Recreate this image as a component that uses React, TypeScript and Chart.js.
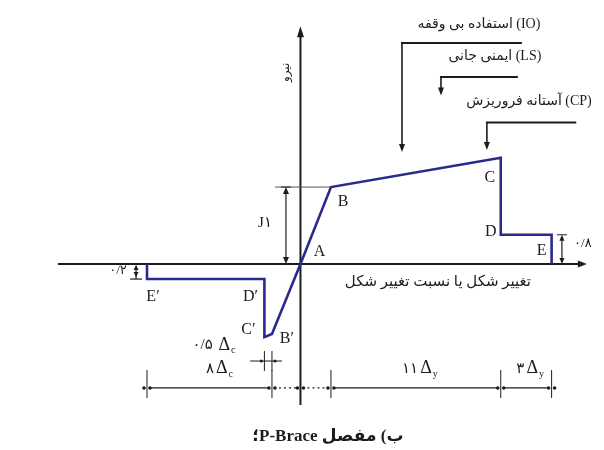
import React, { useEffect, useRef } from "react";
import { Chart, registerables } from "chart.js";

Chart.register(...registerables);

// ---- scale ranges (x in Δ units, y = normalised force) ----
const X_MIN = -19.5;
const X_MAX = 19.7;
const Y_MIN = -2.416;
const Y_MAX = 3.43;

// ---- generalized force–deformation curve ----
const pointNames = ["", "E′", "D′", "C′", "B′", "A", "B", "C", "D", "E", ""];
const curveX = [-9.96, -9.96, -2.34, -2.34, -1.85, 0, 1.98, 13.0, 13.0, 16.3, 16.3];
const curveY = [0, -0.195, -0.195, -0.95, -0.91, 0, 1.0, 1.38, 0.38, 0.38, 0];

// ---- dimension chain under the plot ----
const chainX = [-9.96, -1.85, 0, 1.98, 13.0, 16.3];
const chainNum = ["۸", "", "", "۱۱", "۳"];
const chainSub = ["c", "", "", "y", "y"];
const chainDotted = [false, true, true, false, false];

// ---- performance levels ----
const levelNames = ["(IO) استفاده بی وقفه", "(LS) ایمنی جانی", "(CP) آستانه فروریزش"];
const levelArrowX = [6.59, 9.12, 12.1];
const levelEndX = [14.37, 14.11, 17.9];
const levelTopY = [2.87, 2.43, 1.84];
const levelTipY = [1.455, 2.19, 1.48];
const levelTextX = [11.58, 12.62, 14.83];
const levelTextY = [3.117, 2.7, 2.117];

// ---- texts ----
const xTitle = "تغییر شکل یا نسبت تغییر شکل";
const yTitle = "نیرو";
const unitLabel = "J۱";
const residualPos = "۰/۸";
const residualNeg = "۰/۲";
const halfDelta = "۰/۵ ";
const caption = "ب) مفصل P-Brace؛";

const SERIF = '"Liberation Serif", "DejaVu Serif", "DejaVu Sans", serif';
const MIXED = '"Liberation Serif", "DejaVu Sans", serif';
const INK = "#1c1c1c";
const CURVE = "#2a2a8e";

const labelOffset: Record<string, [number, number]> = {
  "A": [19, -12],
  "B": [12, 15],
  "C": [-11, 20],
  "D": [-10, -3],
  "E": [-10, 16],
  "E′": [6, 18],
  "D′": [-14, 18],
  "C′": [-16, -7],
  "B′": [15, 5],
};

function seg(ctx: CanvasRenderingContext2D, x1: number, y1: number, x2: number, y2: number, w: number) {
  ctx.lineWidth = w;
  ctx.beginPath();
  ctx.moveTo(x1, y1);
  ctx.lineTo(x2, y2);
  ctx.stroke();
}

function head(ctx: CanvasRenderingContext2D, x: number, y: number, dir: string, len: number, half: number) {
  ctx.beginPath();
  ctx.moveTo(x, y);
  if (dir === "right") { ctx.lineTo(x - len, y - half); ctx.lineTo(x - len, y + half); }
  if (dir === "left") { ctx.lineTo(x + len, y - half); ctx.lineTo(x + len, y + half); }
  if (dir === "up") { ctx.lineTo(x - half, y + len); ctx.lineTo(x + half, y + len); }
  if (dir === "down") { ctx.lineTo(x - half, y - len); ctx.lineTo(x + half, y - len); }
  ctx.closePath();
  ctx.fill();
}

function text(ctx: CanvasRenderingContext2D, s: string, x: number, y: number, font: string, dir: CanvasDirection = "ltr", align: CanvasTextAlign = "center") {
  ctx.font = font;
  ctx.direction = dir;
  ctx.textAlign = align;
  ctx.textBaseline = "middle";
  ctx.fillText(s, x, y);
}

function deltaLabel(ctx: CanvasRenderingContext2D, num: string, sub: string, cx: number, cy: number) {
  const fNum = `15px ${MIXED}`;
  const fD = `18px ${SERIF}`;
  const fS = `10px ${SERIF}`;
  ctx.direction = "ltr";
  ctx.textBaseline = "middle";
  ctx.textAlign = "left";
  ctx.font = fNum; const w1 = ctx.measureText(num).width;
  ctx.font = fD; const w2 = ctx.measureText("Δ").width;
  ctx.font = fS; const w3 = ctx.measureText(sub).width;
  let x = cx - (w1 + 2 + w2 + 1 + w3) / 2;
  ctx.font = fNum; ctx.fillText(num, x, cy); x += w1 + 2;
  ctx.font = fD; ctx.fillText("Δ", x, cy); x += w2 + 1;
  ctx.font = fS; ctx.fillText(sub, x, cy + 6);
}

const diagram = {
  id: "diagram",
  beforeDatasetsDraw(chart: any) {
    const { ctx, scales } = chart;
    const X = (v: number) => scales.x.getPixelForValue(v);
    const Y = (v: number) => scales.y.getPixelForValue(v);
    ctx.save();
    ctx.strokeStyle = INK;
    ctx.fillStyle = INK;
    ctx.lineCap = "butt";

    // axes
    seg(ctx, X(-15.74), Y(0), X(18.4), Y(0), 2);
    head(ctx, X(18.59), Y(0), "right", 9, 3.5);
    seg(ctx, X(0), Y(-1.83), X(0), Y(2.95), 2);
    head(ctx, X(0), Y(3.09), "up", 11, 3.5);

    // extension at yield level
    const bx = curveX[6];
    ctx.strokeStyle = "#555";
    seg(ctx, X(-1.65), Y(curveY[6]), X(bx), Y(curveY[6]), 1);
    ctx.strokeStyle = INK;

    // unit dimension
    const ux = X(-0.94);
    seg(ctx, ux, Y(curveY[6]) + 5, ux, Y(0) - 5, 1.2);
    head(ctx, ux, Y(curveY[6]), "up", 7, 3);
    head(ctx, ux, Y(0), "down", 7, 3);
    seg(ctx, ux - 5, Y(curveY[6]), ux + 5, Y(curveY[6]), 1);

    // residual +0.8
    const rx = X(16.97);
    seg(ctx, rx, Y(curveY[9]) + 4, rx, Y(0) - 4, 1.2);
    head(ctx, rx, Y(curveY[9]), "up", 6, 2.5);
    head(ctx, rx, Y(0), "down", 6, 2.5);
    seg(ctx, rx - 5, Y(curveY[9]), rx + 5, Y(curveY[9]), 1);

    // residual -0.2
    const lx = X(-10.67);
    seg(ctx, lx, Y(0) + 2, lx, Y(curveY[1]), 1.2);
    head(ctx, lx, Y(0) + 1, "up", 5, 2.5);
    head(ctx, lx, Y(curveY[1]) - 2, "down", 5, 2.5);
    seg(ctx, lx - 6, Y(curveY[1]), lx + 6, Y(curveY[1]), 1.2);

    // performance level brackets
    for (let i = 0; i < levelNames.length; i++) {
      const ax = X(levelArrowX[i]);
      seg(ctx, ax - 1, Y(levelTopY[i]), X(levelEndX[i]), Y(levelTopY[i]), 2);
      seg(ctx, ax, Y(levelTopY[i]), ax, Y(levelTipY[i]) - 6, 1.6);
      head(ctx, ax, Y(levelTipY[i]), "down", 8, 3);
    }

    // dimension chain
    const cy = Y(-1.61);
    for (let i = 0; i < chainX.length - 1; i++) {
      const a = X(chainX[i]);
      const b = X(chainX[i + 1]);
      if (chainDotted[i]) ctx.setLineDash([2, 3]);
      seg(ctx, a + 2, cy, b - 2, cy, 1.3);
      ctx.setLineDash([]);
    }
    for (let i = 0; i < chainX.length; i++) {
      const t = X(chainX[i]);
      if (chainX[i] !== 0) seg(ctx, t, Y(-1.377), t, Y(-1.74), 1);
      ctx.beginPath(); ctx.arc(t - 3, cy, 1.8, 0, Math.PI * 2); ctx.fill();
      ctx.beginPath(); ctx.arc(t + 3, cy, 1.8, 0, Math.PI * 2); ctx.fill();
    }

    // small 0.5Δc dimension
    const sy = Y(-1.26);
    seg(ctx, X(-3.26), sy, X(-1.2), sy, 1);
    seg(ctx, X(curveX[3]), Y(-1.13), X(curveX[3]), Y(-1.39), 1);
    seg(ctx, X(curveX[4]), Y(-1.13), X(curveX[4]), Y(-1.39), 1);
    ctx.beginPath(); ctx.arc(X(curveX[3]) - 3, sy, 1.5, 0, Math.PI * 2); ctx.fill();
    ctx.beginPath(); ctx.arc(X(curveX[4]) + 3, sy, 1.5, 0, Math.PI * 2); ctx.fill();

    ctx.restore();
  },
  afterDatasetsDraw(chart: any) {
    const { ctx, scales } = chart;
    const X = (v: number) => scales.x.getPixelForValue(v);
    const Y = (v: number) => scales.y.getPixelForValue(v);
    ctx.save();
    ctx.fillStyle = INK;

    // point letters
    for (let i = 0; i < pointNames.length; i++) {
      const n = pointNames[i];
      if (!n) continue;
      const o = labelOffset[n];
      text(ctx, n, X(curveX[i]) + o[0], Y(curveY[i]) + o[1], `16px ${SERIF}`);
    }

    // level texts
    for (let i = 0; i < levelNames.length; i++) {
      text(ctx, levelNames[i], X(levelTextX[i]), Y(levelTextY[i]), `14px ${MIXED}`, "rtl");
    }

    // axis titles
    text(ctx, xTitle, X(8.92), Y(-0.234), `15px ${MIXED}`, "rtl");
    ctx.save();
    ctx.translate(X(-0.94), Y(2.49));
    ctx.rotate(-Math.PI / 2);
    text(ctx, yTitle, 0, 0, `12px ${MIXED}`, "rtl");
    ctx.restore();

    // value labels
    text(ctx, unitLabel, X(-2.3), Y(0.53), `15px ${MIXED}`);
    text(ctx, residualPos, X(18.33), Y(0.27), `13px ${MIXED}`);
    text(ctx, residualNeg, X(-11.84), Y(-0.09), `13px ${MIXED}`);

    // chain labels
    for (let i = 0; i < chainNum.length; i++) {
      if (!chainNum[i]) continue;
      const cx = (X(chainX[i]) + X(chainX[i + 1])) / 2;
      deltaLabel(ctx, chainNum[i], chainSub[i], cx + (i === 0 ? 10 : 4), Y(-1.36));
    }
    deltaLabel(ctx, halfDelta, "c", X(-5.61), Y(-1.05));

    // caption
    text(ctx, caption, X(1.78), Y(-2.247), `bold 17px ${MIXED}`, "rtl");

    ctx.restore();
  },
};

export default function App() {
  const ref = useRef<HTMLCanvasElement>(null);

  useEffect(() => {
    if (!ref.current) return;
    const data = curveX.map((x, i) => ({ x, y: curveY[i] }));
    const chart = new Chart(ref.current, {
      type: "scatter",
      data: {
        datasets: [
          {
            data,
            showLine: true,
            borderColor: CURVE,
            backgroundColor: CURVE,
            borderWidth: 2.6,
            pointRadius: 0,
            fill: false,
            tension: 0,
            borderJoinStyle: "miter",
          } as any,
        ],
      },
      options: {
        responsive: false,
        maintainAspectRatio: false,
        animation: false,
        layout: { padding: 0 },
        plugins: { legend: { display: false }, tooltip: { enabled: false }, title: { display: false } },
        scales: {
          x: { type: "linear", min: X_MIN, max: X_MAX, display: false },
          y: { type: "linear", min: Y_MIN, max: Y_MAX, display: false },
        },
      },
      plugins: [diagram],
    });
    return () => chart.destroy();
  }, []);

  return (
    <div style={{ position: "fixed", left: 0, top: 0, width: 604, height: 450, background: "#ffffff" }}>
      <canvas ref={ref} width={604} height={450} style={{ width: 604, height: 450, display: "block" }} />
    </div>
  );
}
